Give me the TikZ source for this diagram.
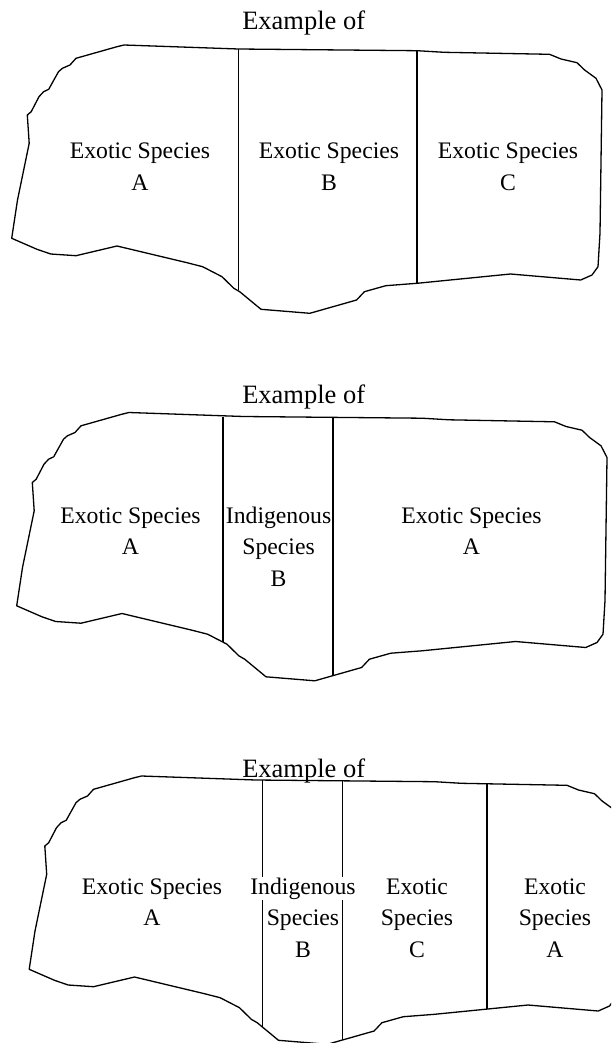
\documentclass[tikz,border=0pt]{standalone}
\usepackage{fontspec}
\setmainfont{Liberation Serif}
\begin{document}
\begin{tikzpicture}[x=1pt,y=-1pt,
  outline/.style={line width=1.3pt,line join=round},
  divider/.style={line width=1.3pt},
  lbl/.style={anchor=base,fill=white,inner sep=0.8pt,font=\fontsize{23.7}{28}\selectfont},
  ttl/.style={anchor=base,inner sep=0pt,font=\fontsize{26.5}{32}\selectfont}]
\useasboundingbox (0,0) rectangle (611,1043);
\clip (0,0) rectangle (611,1043);
\tikzset{blob/.pic={
  \draw[outline] (124,45) -- (238.5,49) -- (417,50.7) -- (444,52.3) -- (549.5,54.3)
   -- (561,59) -- (577,62.7) -- (584.6,70) -- (596,78.3) -- (602,90)
   -- (600,233) -- (598,266.7) -- (592,275) -- (580.7,280)
   -- (510.5,274) -- (417,283.3) -- (385.8,285.7) -- (364.4,291.7) -- (356.6,300)
   -- (309.8,313.3) -- (261,309.3) -- (239.7,291.7) -- (233.8,288.3) -- (222,276.7)
   -- (202.6,266.7) -- (187,262.7) -- (117,246) -- (76,255.7) -- (50.7,254)
   -- (37,249.3) -- (11.7,238.3) -- (17.5,200) -- (29.2,143.3) -- (27.3,115)
   -- (31.2,111.7) -- (39,96.7) -- (43.6,91.7) -- (48.7,89.3) -- (58.5,71.7)
   -- (62.4,68.3) -- (70,65) -- (76,58.3) -- (117,46.7) -- cycle;
}}
% ---------- shape 1 ----------
\pic at (0,0) {blob};
\coordinate (d1t) at (238.5,49);   \coordinate (d1b) at (238.5,290);
\coordinate (d2t) at (417,50.7);   \coordinate (d2b) at (417,283.3);
\draw[divider] (d1t) -- (d1b);
\draw[divider] (d2t) -- (d2b);
\node[ttl] (t1) at (303.7,29.3) {Example of};
\node[lbl] (a1) at (140,158.3) {Exotic Species};
\node[lbl] (a1b) at (140,190) {A};
\node[lbl] (b1) at (329,158.3) {Exotic Species};
\node[lbl] (b1b) at (329,190) {B};
\node[lbl] (c1) at (508,158.3) {Exotic Species};
\node[lbl] (c1b) at (508,190) {C};
% ---------- shape 2 ----------
\pic at (5,367.5) {blob};
\coordinate (e1t) at (223,416.7);  \coordinate (e1b) at (223,641.5);
\coordinate (e2t) at (333,417.5);  \coordinate (e2b) at (333,675.6);
\draw[divider] (e1t) -- (e1b);
\draw[divider] (e2t) -- (e2b);
\node[ttl] (t2) at (303.7,403.3) {Example of};
\node[lbl] (a2) at (130.5,523) {Exotic Species};
\node[lbl] (a2b) at (130.5,554.5) {A};
\node[lbl] (b2) at (278.6,523) {Indigenous};
\node[lbl] (b2s) at (278.6,554.5) {Species};
\node[lbl] (b2b) at (278.6,586) {B};
\node[lbl] (c2) at (471.5,523) {Exotic Species};
\node[lbl] (c2b) at (471.5,554.5) {A};
% ---------- shape 3 ----------
\pic at (17.5,731) {blob};
\coordinate (f1t) at (262.3,780.1); \coordinate (f1b) at (262.3,1026.9);
\coordinate (f2t) at (342.2,780.8); \coordinate (f2b) at (342.2,1040.1);
\coordinate (f3t) at (487,783.8);   \coordinate (f3b) at (487,1009.1);
\draw[divider] (f1t) -- (f1b);
\draw[divider] (f2t) -- (f2b);
\draw[divider] (f3t) -- (f3b);
\node[ttl] (t3) at (303.7,777.3) {Example of};
\node[lbl] (a3) at (152,894) {Exotic Species};
\node[lbl] (a3b) at (152,925.5) {A};
\node[lbl] (b3) at (303,894) {Indigenous};
\node[lbl] (b3s) at (303,925.5) {Species};
\node[lbl] (b3b) at (303,957) {B};
\node[lbl] (c3) at (417,894) {Exotic};
\node[lbl] (c3s) at (417,925.5) {Species};
\node[lbl] (c3b) at (417,957) {C};
\node[lbl] (d3) at (555,894) {Exotic};
\node[lbl] (d3s) at (555,925.5) {Species};
\node[lbl] (d3b) at (555,957) {A};
\end{tikzpicture}
\end{document}
